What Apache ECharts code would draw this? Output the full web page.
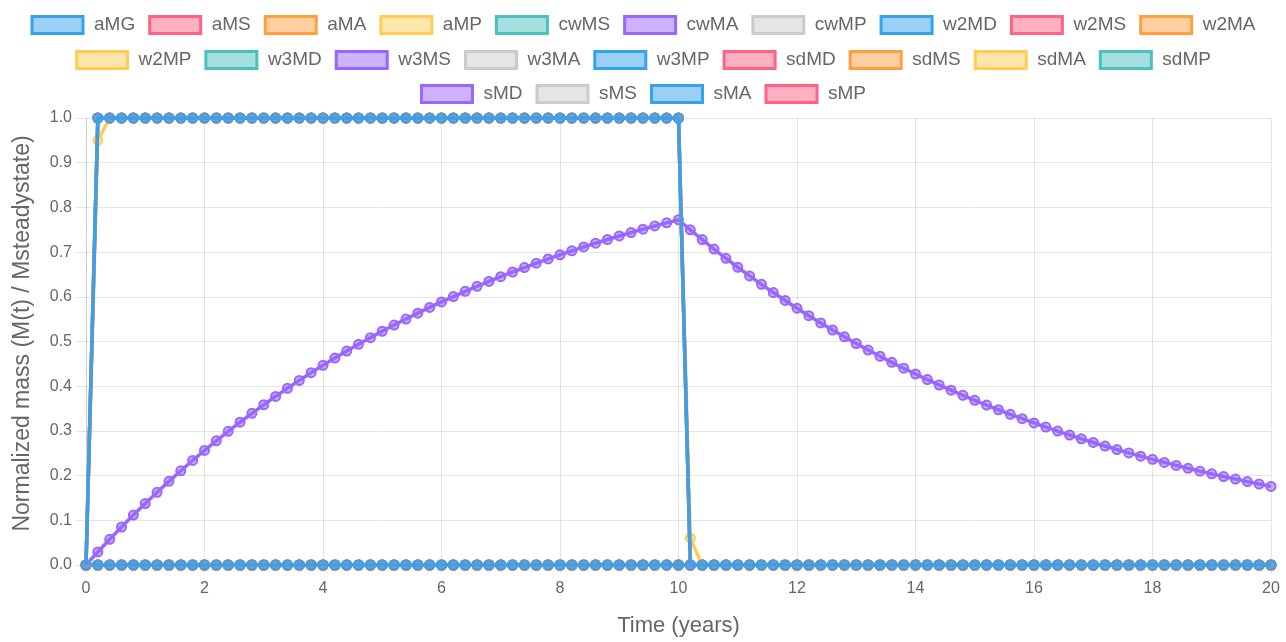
<!DOCTYPE html>
<html>
<head>
<meta charset="utf-8">
<script src="https://cdn.jsdelivr.net/npm/echarts@6/dist/echarts.min.js"></script>
<style>
html,body{margin:0;padding:0;background:#fff;}
#chart{width:1286px;height:642px;}
</style>
</head>
<body>
<div id="chart"></div>
<script>
// ---- data ----
const seriesNames = ['aMG','aMS','aMA','aMP','cwMS','cwMA','cwMP','w2MD','w2MS','w2MA','w2MP','w3MD','w3MS','w3MA','w3MP','sdMD','sdMS','sdMA','sdMP','sMD','sMS','sMA','sMP'];
const legendRows = [
  ['aMG','aMS','aMA','aMP','cwMS','cwMA','cwMP','w2MD','w2MS','w2MA'],
  ['w2MP','w3MD','w3MS','w3MA','w3MP','sdMD','sdMS','sdMA','sdMP'],
  ['sMD','sMS','sMA','sMP']
];
const times = [0,0.2,0.4,0.6,0.8,1,1.2,1.4,1.6,1.8,
  2,2.2,2.4,2.6,2.8,3,3.2,3.4,3.6,3.8,
  4,4.2,4.4,4.6,4.8,5,5.2,5.4,5.6,5.8,
  6,6.2,6.4,6.6,6.8,7,7.2,7.4,7.6,7.8,
  8,8.2,8.4,8.6,8.8,9,9.2,9.4,9.6,9.8,
  10,10.2,10.4,10.6,10.8,11,11.2,11.4,11.6,11.8,
  12,12.2,12.4,12.6,12.8,13,13.2,13.4,13.6,13.8,
  14,14.2,14.4,14.6,14.8,15,15.2,15.4,15.6,15.8,
  16,16.2,16.4,16.6,16.8,17,17.2,17.4,17.6,17.8,
  18,18.2,18.4,18.6,18.8,19,19.2,19.4,19.6,19.8,
  20];
const stepValues = [0,
  1,1,1,1,1,1,1,1,1,1,
  1,1,1,1,1,1,1,1,1,1,
  1,1,1,1,1,1,1,1,1,1,
  1,1,1,1,1,1,1,1,1,1,
  1,1,1,1,1,1,1,1,1,1,
  0,0,0,0,0,0,0,0,0,0,
  0,0,0,0,0,0,0,0,0,0,
  0,0,0,0,0,0,0,0,0,0,
  0,0,0,0,0,0,0,0,0,0,
  0,0,0,0,0,0,0,0,0,0];
const lagValues = [0,
  0.95,1,1,1,1,1,1,1,1,1,
  1,1,1,1,1,1,1,1,1,1,
  1,1,1,1,1,1,1,1,1,1,
  1,1,1,1,1,1,1,1,1,1,
  1,1,1,1,1,1,1,1,1,1,
  0.06,0,0,0,0,0,0,0,0,0,
  0,0,0,0,0,0,0,0,0,0,
  0,0,0,0,0,0,0,0,0,0,
  0,0,0,0,0,0,0,0,0,0,
  0,0,0,0,0,0,0,0,0,0];
const curveValues = [0,
  0.0292,0.0575,0.0850,0.1117,0.1376,0.1627,0.1871,0.2108,0.2339,0.2562,
  0.2779,0.2990,0.3194,0.3393,0.3585,0.3772,0.3954,0.4130,0.4302,0.4468,
  0.4629,0.4786,0.4938,0.5086,0.5229,0.5368,0.5503,0.5634,0.5762,0.5885,
  0.6005,0.6122,0.6235,0.6345,0.6451,0.6555,0.6655,0.6753,0.6848,0.6940,
  0.7029,0.7115,0.7200,0.7281,0.7361,0.7438,0.7512,0.7585,0.7655,0.7724,
  0.7499,0.7280,0.7068,0.6862,0.6661,0.6467,0.6279,0.6095,0.5918,0.5745,
  0.5578,0.5415,0.5257,0.5104,0.4955,0.4810,0.4670,0.4534,0.4402,0.4273,
  0.4148,0.4027,0.3910,0.3796,0.3685,0.3578,0.3473,0.3372,0.3274,0.3178,
  0.3086,0.2996,0.2908,0.2823,0.2741,0.2661,0.2583,0.2508,0.2435,0.2364,
  0.2295,0.2228,0.2163,0.2100,0.2039,0.1979,0.1922,0.1866,0.1811,0.1758];
const zeroValues = [0,
  0,0,0,0,0,0,0,0,0,0,
  0,0,0,0,0,0,0,0,0,0,
  0,0,0,0,0,0,0,0,0,0,
  0,0,0,0,0,0,0,0,0,0,
  0,0,0,0,0,0,0,0,0,0,
  0,0,0,0,0,0,0,0,0,0,
  0,0,0,0,0,0,0,0,0,0,
  0,0,0,0,0,0,0,0,0,0,
  0,0,0,0,0,0,0,0,0,0,
  0,0,0,0,0,0,0,0,0,0];
const seriesValues = {
  aMG: stepValues, aMS: stepValues, aMA: stepValues, aMP: lagValues,
  cwMS: stepValues, cwMA: curveValues, cwMP: stepValues
};
const yTicks = ['0.0','0.1','0.2','0.3','0.4','0.5','0.6','0.7','0.8','0.9','1.0'];
const xTicks = ['0','2','4','6','8','10','12','14','16','18','20'];

// ---- styles ----
const palette = [
  ['rgb(54,162,235)','rgba(54,162,235,0.5)'],
  ['rgb(255,99,132)','rgba(255,99,132,0.5)'],
  ['rgb(255,159,64)','rgba(255,159,64,0.5)'],
  ['rgb(255,205,86)','rgba(255,205,86,0.5)'],
  ['rgb(75,192,192)','rgba(75,192,192,0.5)'],
  ['rgb(153,102,255)','rgba(153,102,255,0.5)'],
  ['rgb(201,203,207)','rgba(201,203,207,0.5)']
];
const FONT = '"Liberation Sans", Arial, Helvetica, sans-serif';
const gridColor = 'rgba(0,0,0,0.1)';

const series = seriesNames.map((name, i) => {
  const [c, bg] = palette[i % palette.length];
  const vals = seriesValues[name] || zeroValues;
  return {
    name, type: 'line',
    data: times.map((t, k) => [t, vals[k]]),
    z: 100 - i,
    symbol: 'circle', symbolSize: 9, showSymbol: true,
    lineStyle: { color: c, width: 3.5 },
    itemStyle: { color: bg, borderColor: c, borderWidth: 2 },
    emphasis: { disabled: true },
    animation: false
  };
});

const rowTops = [15, 50, 84];
const legends = legendRows.map((row, r) => ({
  top: rowTops[r], left: 'center', padding: 0,
  itemWidth: 51, itemHeight: 17, itemGap: 13,
  selectedMode: false,
  textStyle: { fontSize: 19, color: '#666', fontFamily: FONT, padding: [0, 0, 0, 6] },
  data: row.map(name => {
    const i = seriesNames.indexOf(name);
    const [c, bg] = palette[i % palette.length];
    return { name, icon: 'rect', itemStyle: { color: bg, borderColor: c, borderWidth: 3 } };
  })
}));

const chart = echarts.init(document.getElementById('chart'), null, { renderer: 'canvas' });
chart.setOption({
  animation: false,
  backgroundColor: '#fff',
  legend: legends,
  grid: { left: 86, right: 15, top: 118, bottom: 74, containLabel: false },
  xAxis: {
    type: 'value', min: 0, max: 20, interval: 2,
    name: 'Time (years)', nameLocation: 'middle', nameGap: 50,
    nameTextStyle: { fontSize: 22, color: '#666', fontFamily: FONT },
    axisLine: { show: true, lineStyle: { color: gridColor } },
    axisTick: { show: true, length: 8, lineStyle: { color: gridColor } },
    axisLabel: { fontSize: 16, color: '#666', fontFamily: FONT, margin: 16,
      formatter: v => xTicks[Math.round(v / 2)] },
    splitLine: { show: true, lineStyle: { color: gridColor } }
  },
  yAxis: {
    type: 'value', min: 0, max: 1, interval: 0.1,
    name: 'Normalized mass (M(t) / Msteadystate)', nameLocation: 'middle', nameGap: 52,
    nameTextStyle: { fontSize: 23, color: '#666', fontFamily: FONT, padding: [0, 0, 0, 16] },
    axisLine: { show: true, lineStyle: { color: gridColor } },
    axisTick: { show: true, length: 10, lineStyle: { color: gridColor } },
    axisLabel: { fontSize: 16, color: '#666', fontFamily: FONT, margin: 14,
      formatter: v => yTicks[Math.round(v * 10)] },
    splitLine: { show: true, lineStyle: { color: gridColor } }
  },
  series
});
</script>
</body>
</html>
